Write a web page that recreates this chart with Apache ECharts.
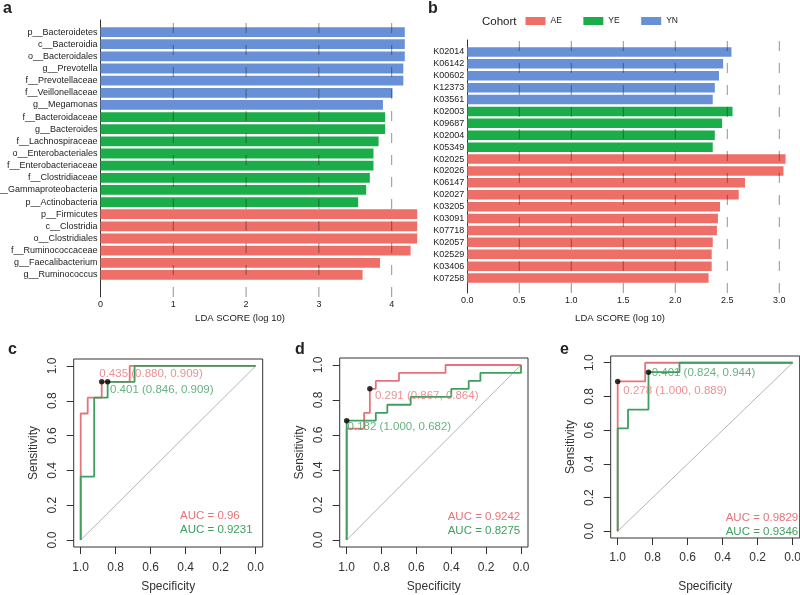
<!DOCTYPE html>
<html><head><meta charset="utf-8">
<script src="https://cdn.jsdelivr.net/npm/echarts@6/dist/echarts.min.js"></script>
<style>html,body{margin:0;padding:0;background:#fff}#chart{width:800px;height:595px}</style>
</head><body><div id="chart"></div>
<script>
// ---------- Panel a data ----------
const aCategories = ['p__Bacteroidetes','c__Bacteroidia','o__Bacteroidales','g__Prevotella','f__Prevotellaceae','f__Veillonellaceae','g__Megamonas','f__Bacteroidaceae','g__Bacteroides','f__Lachnospiraceae','o__Enterobacteriales','f__Enterobacteriaceae','f__Clostridiaceae','c__Gammaproteobacteria','p__Actinobacteria','p__Firmicutes','c__Clostridia','o__Clostridiales','f__Ruminococcaceae','g__Faecalibacterium','g__Ruminococcus'];
const aCohort = ['YN','YN','YN','YN','YN','YN','YN','YE','YE','YE','YE','YE','YE','YE','YE','AE','AE','AE','AE','AE','AE'];
const aLDA = [4.18,4.18,4.18,4.16,4.16,4.01,3.88,3.91,3.91,3.82,3.75,3.75,3.70,3.65,3.54,4.35,4.35,4.35,4.26,3.84,3.60];
const aTicks = [0,1,2,3,4];

// ---------- Panel b data ----------
const bCategories = ['K02014','K06142','K00602','K12373','K03561','K02003','K09687','K02004','K05349','K02025','K02026','K06147','K02027','K03205','K03091','K07718','K02057','K02529','K03406','K07258'];
const bCohort = ['YN','YN','YN','YN','YN','YE','YE','YE','YE','AE','AE','AE','AE','AE','AE','AE','AE','AE','AE','AE'];
const bLDA = [2.54,2.46,2.42,2.38,2.36,2.55,2.45,2.38,2.36,3.06,3.04,2.67,2.61,2.43,2.41,2.40,2.36,2.35,2.35,2.32];
const bTicks = [0,0.5,1,1.5,2,2.5,3];

const cohorts = ['AE','YE','YN'];

// ---------- ROC data (specificity, sensitivity) ----------
const rocTicks = [0,0.2,0.4,0.6,0.8,1];
const cRed   = [[1,0],[1,0.727],[0.96,0.727],[0.96,0.818],[0.88,0.818],[0.88,0.909],[0.72,0.909],[0.72,1],[0,1]];
const cGreen = [[1,0],[1,0.364],[0.923,0.364],[0.923,0.818],[0.846,0.818],[0.846,0.909],[0.692,0.909],[0.692,1],[0,1]];
const cBest  = [[0.880,0.909],[0.846,0.909]];
const cThr   = [0.435,0.401];
const cAUC   = [0.96,0.9231];

const dRed   = [[1,0],[1,0.636],[0.9,0.636],[0.9,0.727],[0.867,0.727],[0.867,0.864],[0.833,0.864],[0.833,0.909],[0.7,0.909],[0.7,0.955],[0.433,0.955],[0.433,1],[0,1]];
const dGreen = [[1,0],[1,0.682],[0.833,0.682],[0.833,0.727],[0.767,0.727],[0.767,0.773],[0.633,0.773],[0.633,0.818],[0.4,0.818],[0.4,0.864],[0.3,0.864],[0.3,0.909],[0.233,0.909],[0.233,0.955],[0,0.955],[0,1]];
const dBest  = [[0.867,0.864],[1.000,0.682]];
const dThr   = [0.291,0.182];
const dAUC   = [0.9242,0.8275];

const eRed   = [[1,0],[1,0.889],[0.843,0.889],[0.843,1],[0,1]];
const eGreen = [[1,0],[1,0.611],[0.941,0.611],[0.941,0.722],[0.824,0.722],[0.824,0.944],[0.647,0.944],[0.647,1],[0,1]];
const eBest  = [[1.000,0.889],[0.824,0.944]];
const eThr   = [0.278,0.401];
const eAUC   = [0.9829,0.9346];

// ---------- styles ----------
const FONT = 'Liberation Sans, Arial, Helvetica, sans-serif';
const barColors = {AE:'#EE6E68', YE:'#1BAD49', YN:'#6890D6'};
const RED = '#E5747A', GREEN = '#3E9F5E';
const TXT = '#222';

const chart = echarts.init(document.getElementById('chart'), null, {renderer:'canvas'});

const grids = [
  {left:100.5, top:20, width:320.3, height:277},   // 0 a background
  {left:100.5, top:26, width:320.3, height:255},   // 1 a bars
  {left:467.3, top:40, width:322.4, height:253},   // 2 b background
  {left:467.3, top:46, width:322.4, height:238},   // 3 b bars
  {left:73.7, top:359, width:189, height:188, show:true, borderColor:'#333', borderWidth:1},  // 4 c
  {left:339.7, top:358, width:188.3, height:189, show:true, borderColor:'#333', borderWidth:1}, // 5 d
  {left:610.7, top:356, width:189, height:182, show:true, borderColor:'#333', borderWidth:1}   // 6 e
].map(g => Object.assign({outerBoundsMode:'none', containLabel:false}, g));

const xAxes = [], yAxes = [], series = [];

function bgAxes(gi, max, ticks, fmt){
  xAxes.push({type:'value', gridIndex:gi, min:0, max:max, axisLine:{show:false, onZero:false}, axisTick:{show:false}, splitLine:{show:false},
    axisLabel:{customValues:ticks, formatter:fmt, fontSize:9, color:TXT, margin:3, fontFamily:FONT}});
  yAxes.push({type:'value', gridIndex:gi, min:0, max:1, axisLine:{show:true, onZero:false, lineStyle:{color:'#333', width:1}},
    axisTick:{show:false}, axisLabel:{show:false}, splitLine:{show:false}});
  ticks.filter(v => v > 0).forEach(v => {
    series.push({type:'line', xAxisIndex:gi, yAxisIndex:gi, data:[[v,0],[v,1]], symbol:'none', silent:true, z:5,
      lineStyle:{type:[10,12], color:'rgba(40,40,40,0.5)', width:1}});
  });
}
function barAxes(gi, max, cats, vals, groups, bw){
  xAxes.push({type:'value', gridIndex:gi, min:0, max:max, show:false});
  yAxes.push({type:'category', gridIndex:gi, data:cats, inverse:true, axisLine:{show:false}, axisTick:{show:false},
    axisLabel:{fontSize:9, color:TXT, margin:3, fontFamily:FONT}});
  cohorts.forEach(c => {
    series.push({type:'bar', name:c, xAxisIndex:gi, yAxisIndex:gi, barWidth:bw, barGap:'-100%',
      itemStyle:{color:barColors[c]}, z:2,
      data: vals.map((v,i) => groups[i] === c ? v : '-')});
  });
}
bgAxes(0, 4.4, aTicks, v => String(v));
barAxes(1, 4.4, aCategories, aLDA, aCohort, 9.8);
bgAxes(2, 3.1, bTicks, v => v.toFixed(1));
barAxes(3, 3.1, bCategories, bLDA, bCohort, 9.5);

const rocCfg = [
  {gi:4, red:cRed, green:cGreen, best:cBest, thr:cThr, offs:[[-5.2,-8.3],[-0.4,8.3]], lblMargin:15, nameGap:34},
  {gi:5, red:dRed, green:dGreen, best:dBest, thr:dThr, offs:[[2.3,7],[-1.8,6]], lblMargin:15, nameGap:34},
  {gi:6, red:eRed, green:eGreen, best:eBest, thr:eThr, offs:[[2.9,9],[0.4,1]], lblMargin:14, nameGap:43}
];
const axisFont = {fontSize:12, color:'#333', fontFamily:FONT};
rocCfg.forEach(r => {
  xAxes.push({type:'value', gridIndex:r.gi, min:-0.04, max:1.04, inverse:true, position:'bottom',
    axisLine:{show:false, onZero:false}, splitLine:{show:false},
    axisTick:{show:true, customValues:rocTicks, length:7, inside:false, lineStyle:{color:'#333'}},
    axisLabel:Object.assign({customValues:rocTicks, formatter:v => v.toFixed(1), margin:r.lblMargin}, axisFont),
    name:'Specificity', nameLocation:'middle', nameGap:r.nameGap, nameTextStyle:axisFont});
  yAxes.push({type:'value', gridIndex:r.gi, min:-0.04, max:1.04, position:'left',
    axisLine:{show:false, onZero:false}, splitLine:{show:false},
    axisTick:{show:true, customValues:rocTicks, length:7, inside:false, lineStyle:{color:'#333'}},
    axisLabel:Object.assign({customValues:rocTicks, formatter:v => v.toFixed(1), margin:15, rotate:90}, axisFont),
    name:'Sensitivity', nameLocation:'middle', nameRotate:90, nameGap:34, nameTextStyle:axisFont});
  series.push({type:'line', xAxisIndex:r.gi, yAxisIndex:r.gi, data:[[1,0],[0,1]], symbol:'none', silent:true, z:1,
    lineStyle:{color:'#b5b5b5', width:1}});
  series.push({type:'line', xAxisIndex:r.gi, yAxisIndex:r.gi, data:r.red, symbol:'none', silent:true, z:2,
    lineStyle:{color:RED, width:1.8}});
  series.push({type:'line', xAxisIndex:r.gi, yAxisIndex:r.gi, data:r.green, symbol:'none', silent:true, z:3,
    lineStyle:{color:GREEN, width:1.8}});
  [RED, GREEN].forEach((col, k) => {
    const p = r.best[k], t = r.thr[k];
    series.push({type:'scatter', xAxisIndex:r.gi, yAxisIndex:r.gi, data:[p], symbolSize:5.5, silent:true, z:4,
      itemStyle:{color:'#000'},
      label:{show:true, position:'right', distance:0, offset:r.offs[k], color:col, fontSize:11.5, fontFamily:FONT,
        formatter: () => t.toFixed(3) + ' (' + p[0].toFixed(3) + ', ' + p[1].toFixed(3) + ')'}});
  });
});

function txt(text, x, y, opt){
  return {type:'text', x:x, y:y, silent:true, z:10,
    style:Object.assign({text:text, fill:TXT, font:'12px ' + FONT, align:'left', verticalAlign:'middle'}, opt || {})};
}
const graphics = [
  txt('a', 3, 8.5, {font:'bold 16px ' + FONT}),
  txt('b', 428, 8.5, {font:'bold 16px ' + FONT}),
  txt('c', 8, 350, {font:'bold 16px ' + FONT}),
  txt('d', 295, 350, {font:'bold 16px ' + FONT}),
  txt('e', 560, 350, {font:'bold 16px ' + FONT}),
  txt('LDA SCORE (log 10)', 240, 318, {font:'9.5px ' + FONT, align:'center'}),
  txt('LDA SCORE (log 10)', 620, 318, {font:'9.5px ' + FONT, align:'center'}),
  txt('Cohort', 482, 21.5, {font:'11.5px ' + FONT}),
  txt('AUC = ' + cAUC[0], 180, 515.7, {font:'11.5px ' + FONT, fill:RED}),
  txt('AUC = ' + cAUC[1], 180, 530, {font:'11.5px ' + FONT, fill:GREEN}),
  txt('AUC = ' + dAUC[0], 447.7, 517.3, {font:'11.5px ' + FONT, fill:RED}),
  txt('AUC = ' + dAUC[1], 447.7, 530.7, {font:'11.5px ' + FONT, fill:GREEN}),
  txt('AUC = ' + eAUC[0], 725.7, 518.3, {font:'11.5px ' + FONT, fill:RED}),
  txt('AUC = ' + eAUC[1], 725.7, 531.7, {font:'11.5px ' + FONT, fill:GREEN})
];

chart.setOption({
  animation:false,
  backgroundColor:'#fff',
  textStyle:{fontFamily:FONT},
  legend:{data:cohorts, left:525.5, top:16.5, padding:0, itemWidth:20, itemHeight:8, itemGap:21.5, icon:'rect', selectedMode:false,
    textStyle:{fontSize:8.5, color:TXT, fontFamily:FONT}},
  grid:grids,
  xAxis:xAxes,
  yAxis:yAxes,
  series:series,
  graphic:graphics
});
</script>
</body></html>
